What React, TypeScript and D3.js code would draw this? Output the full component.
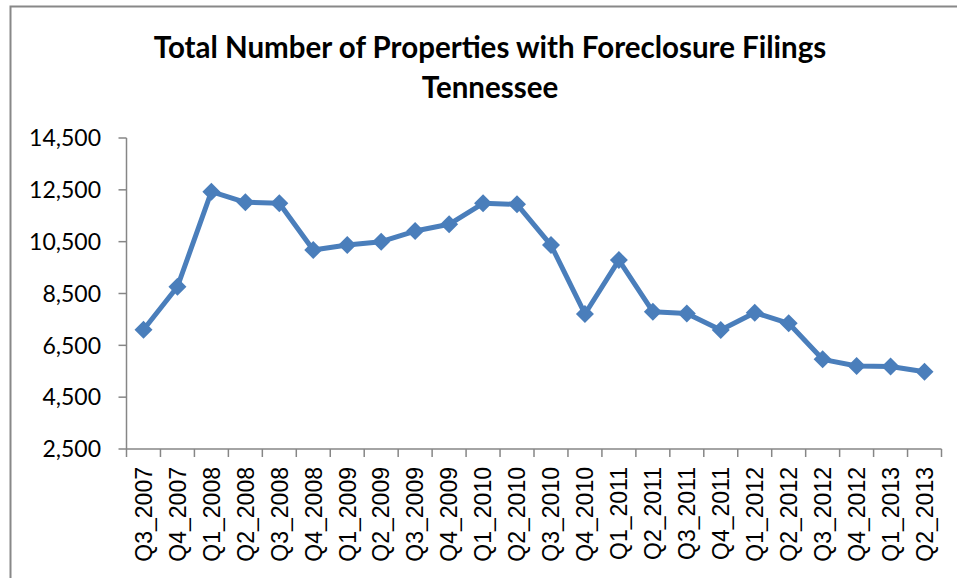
import React from "react";
import * as d3 from "d3";

const categories = [
  "Q3_2007", "Q4_2007", "Q1_2008", "Q2_2008", "Q3_2008", "Q4_2008",
  "Q1_2009", "Q2_2009", "Q3_2009", "Q4_2009", "Q1_2010", "Q2_2010",
  "Q3_2010", "Q4_2010", "Q1_2011", "Q2_2011", "Q3_2011", "Q4_2011",
  "Q1_2012", "Q2_2012", "Q3_2012", "Q4_2012", "Q1_2013", "Q2_2013",
];
const values = [
  7100, 8760, 12430, 12020, 11980, 10180,
  10370, 10500, 10910, 11170, 11980, 11940,
  10370, 7710, 9790, 7800, 7730, 7090,
  7760, 7350, 5960, 5700, 5680, 5480,
];
const yTicks = [2500, 4500, 6500, 8500, 10500, 12500, 14500];
const titleLines = ["Total Number of Properties with Foreclosure Filings", "Tennessee"];

const W = 957;
const H = 578;
const left = 126.5;
const right = 941.5;
const top = 138;
const bottom = 449;
const axisColor = "#868686";
const lineColor = "#4a7ebb";

export default function App() {
  const x = d3.scaleBand<string>().domain(categories).range([left, right]).padding(0);
  const y = d3.scaleLinear().domain([2500, 14500]).range([bottom, top]);
  const cx = (c: string) => (x(c) as number) + x.bandwidth() / 2;
  const line = d3
    .line<number>()
    .x((_, i) => cx(categories[i]))
    .y((d) => y(d));
  const r = 9;
  const diamond = (px: number, py: number) =>
    `M${px},${py - r}L${px + r},${py}L${px},${py + r}L${px - r},${py}Z`;
  const bounds = [...categories.map((c) => x(c) as number), right];

  return (
    <svg width={W} height={H} style={{ position: "absolute", left: 0, top: 0 }}>
      <rect x={0} y={0} width={W} height={H} fill="#fff" />
      <path d={`M10.5,${H + 5}V6.5H${W + 5}`} fill="none" stroke="#888" strokeWidth={2} />
      {titleLines.map((t, i) => (
        <text
          key={i}
          x={490}
          y={58 + i * 40}
          textAnchor="middle"
          fontFamily="Lato, 'Open Sans', sans-serif"
          fontWeight="bold"
          fontSize={29.5}
          fill="#000"
        >
          {t}
        </text>
      ))}
      {/* y axis */}
      <line x1={left} x2={left} y1={top} y2={bottom} stroke={axisColor} strokeWidth={1.5} />
      {yTicks.map((t) => (
        <g key={t}>
          <line x1={left - 8} x2={left} y1={y(t)} y2={y(t)} stroke={axisColor} strokeWidth={1.5} />
          <text
            x={101}
            y={y(t)}
            dy="0.36em"
            textAnchor="end"
            fontFamily="Lato, 'Open Sans', sans-serif"
            fontSize={23}
            fill="#000"
          >
            {d3.format(",")(t)}
          </text>
        </g>
      ))}
      {/* x axis */}
      <line x1={left} x2={right} y1={bottom} y2={bottom} stroke={axisColor} strokeWidth={1.5} />
      {bounds.map((b, i) => (
        <line key={i} x1={b} x2={b} y1={bottom} y2={bottom + 8} stroke={axisColor} strokeWidth={1.5} />
      ))}
      {categories.map((c) => (
        <text
          key={c}
          transform={`translate(${cx(c)},${467}) rotate(-90)`}
          textAnchor="end"
          dy="0.36em"
          fontFamily="'Liberation Sans', Arial, sans-serif"
          fontSize={23}
          fill="#000"
        >
          {c}
        </text>
      ))}
      <path d={line(values) || ""} fill="none" stroke={lineColor} strokeWidth={5} strokeLinejoin="round" />
      {values.map((v, i) => (
        <path key={i} d={diamond(cx(categories[i]), y(v))} fill={lineColor} />
      ))}
    </svg>
  );
}
